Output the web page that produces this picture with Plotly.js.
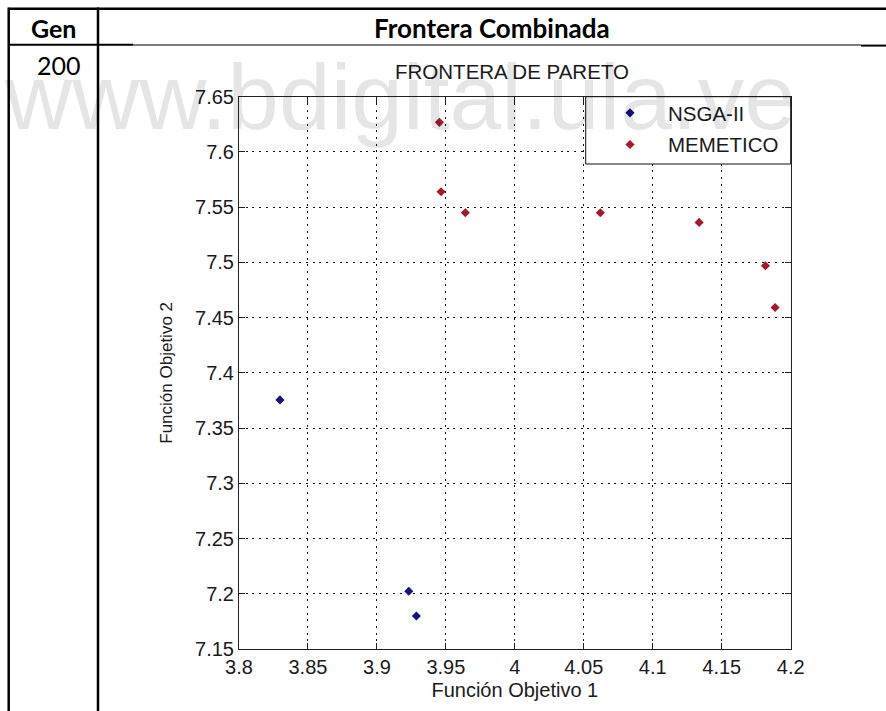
<!DOCTYPE html>
<html>
<head>
<meta charset="utf-8">
<script src="https://cdn.plot.ly/plotly-3.0.1.min.js"></script>
<style>
  html, body { margin: 0; padding: 0; background: #ffffff; }
  #chart { width: 886px; height: 711px; }
</style>
</head>
<body>
<div id="chart"></div>
<script>
// Pareto front points (Función Objetivo 1, Función Objetivo 2)
const nsgaName = 'NSGA-II';
const nsgaF1 = [3.8297, 3.9231, 3.9286];
const nsgaF2 = [7.3755, 7.2023, 7.1799];

const memeName = 'MEMETICO';
const memeF1 = [3.9453, 3.9465, 3.9641, 4.0620, 4.1336, 4.1817, 4.1887];
const memeF2 = [7.6268, 7.5640, 7.5449, 7.5450, 7.5362, 7.4969, 7.4592];

// Axis ticks
const xTickVals = [3.8, 3.85, 3.9, 3.95, 4, 4.05, 4.1, 4.15, 4.2];
const xTickText = ['3.8', '3.85', '3.9', '3.95', '4', '4.05', '4.1', '4.15', '4.2'];
const yTickVals = [7.15, 7.2, 7.25, 7.3, 7.35, 7.4, 7.45, 7.5, 7.55, 7.6, 7.65];
const yTickText = ['7.15', '7.2', '7.25', '7.3', '7.35', '7.4', '7.45', '7.5', '7.55', '7.6', '7.65'];

// Table cell texts
const headerGen = 'Gen';
const headerFront = 'Frontera Combinada';
const genValue = '200';
const plotTitle = 'FRONTERA DE PARETO';
const watermark = 'www.bdigital.ula.ve';

// page geometry helpers (pixel -> paper fraction)
const W = 886, H = 711;
const px = v => v / W;
const py = v => (H - v) / H;

const plotFont = 'Liberation Sans, Arial, Helvetica, sans-serif';
const tableFont = 'Lato, Open Sans, sans-serif';
const ink = '#1a1a1a';

const traces = [
  {
    type: 'scatter', mode: 'markers', name: nsgaName,
    x: nsgaF1, y: nsgaF2, legendgroup: 'a',
    marker: { symbol: 'diamond', size: 7, color: '#14147a' }
  },
  {
    type: 'scatter', mode: 'markers', name: memeName,
    x: memeF1, y: memeF2, legendgroup: 'b',
    marker: { symbol: 'diamond', size: 7, color: '#a8182c' }
  }
];

const axisCommon = {
  showgrid: true, gridcolor: '#111111', gridwidth: 1, griddash: '2px,4.7px',
  ticks: 'inside', ticklen: 6, tickwidth: 1, tickcolor: '#222222',
  showline: true, linecolor: '#222222', linewidth: 1, mirror: 'ticks',
  zeroline: false, tickmode: 'array',
  tickfont: { family: plotFont, size: 20, color: ink },
  fixedrange: true
};

// table borders
function seg(x0, y0, x1, y1, w) {
  return { type: 'line', xref: 'paper', yref: 'paper',
           x0: px(x0), y0: py(y0), x1: px(x1), y1: py(y1),
           line: { color: '#000000', width: w }, layer: 'above' };
}
const shapes = [
  seg(8.7, 8.7, 886, 8.7, 2.5),      // top border
  seg(8.7, 7.5, 8.7, 711, 2.5),      // left border
  seg(98, 7.5, 98, 711, 2.5),        // column divider
  seg(8.7, 44.8, 133, 44.8, 2),      // header bottom (left part)
  seg(133, 45, 861, 45, 1.2),        // header bottom
  seg(861, 45.6, 886, 45.6, 2),      // header bottom (right part)
  // legend frame (white box over the grid)
  { type: 'rect', xref: 'paper', yref: 'paper',
    x0: px(585.7), x1: px(790.7), y0: py(164), y1: py(96.7),
    fillcolor: '#ffffff', line: { color: '#111111', width: 1 }, layer: 'above' }
];

const annotations = [
  { text: headerGen, xref: 'paper', yref: 'paper', x: px(53), y: py(28), xanchor: 'center', yanchor: 'middle',
    showarrow: false, font: { family: tableFont, size: 25, color: '#000', weight: 'bold' } },
  { text: headerFront, xref: 'paper', yref: 'paper', x: px(492), y: py(28), xanchor: 'center', yanchor: 'middle',
    showarrow: false, font: { family: tableFont, size: 26, color: '#000', weight: 'bold' } },
  { text: genValue, xref: 'paper', yref: 'paper', x: px(83), y: py(65), xanchor: 'right', yanchor: 'middle',
    showarrow: false, font: { family: tableFont, size: 25, color: '#000' } },
  { text: watermark, xref: 'paper', yref: 'paper', x: px(2), y: py(151), xanchor: 'left', yanchor: 'bottom',
    showarrow: false, font: { family: plotFont, size: 93, color: 'rgba(0,0,0,0.1)' } }
];

const layout = {
  width: W, height: H,
  margin: { l: 0, r: 0, t: 0, b: 0, pad: 0 },
  paper_bgcolor: '#ffffff', plot_bgcolor: '#ffffff',
  showlegend: true,
  hovermode: false,
  title: {
    text: plotTitle, x: px(512), xanchor: 'center', xref: 'paper',
    y: py(71.5), yanchor: 'middle', yref: 'paper',
    font: { family: plotFont, size: 20.5, color: ink }
  },
  xaxis: Object.assign({}, axisCommon, {
    domain: [px(239), px(790.7)], range: [3.8, 4.2],
    tickvals: xTickVals, ticktext: xTickText,
    title: { text: 'Función Objetivo 1', font: { family: plotFont, size: 20, color: ink }, standoff: 5 }
  }),
  yaxis: Object.assign({}, axisCommon, {
    domain: [1 - 649 / H, 1 - 96.7 / H], range: [7.15, 7.65],
    tickvals: yTickVals, ticktext: yTickText,
    title: { text: 'Función Objetivo 2', font: { family: plotFont, size: 17, color: ink }, standoff: 18 }
  }),
  legend: {
    x: px(592), y: py(93), xanchor: 'left', yanchor: 'top',
    bgcolor: 'rgba(255,255,255,0)', borderwidth: 0,
    itemwidth: 66, tracegroupgap: 2,
    font: { family: plotFont, size: 20.5, color: ink }
  },
  shapes: shapes,
  annotations: annotations
};

Plotly.newPlot('chart', traces, layout, { displayModeBar: false, staticPlot: true });
</script>
</body>
</html>
